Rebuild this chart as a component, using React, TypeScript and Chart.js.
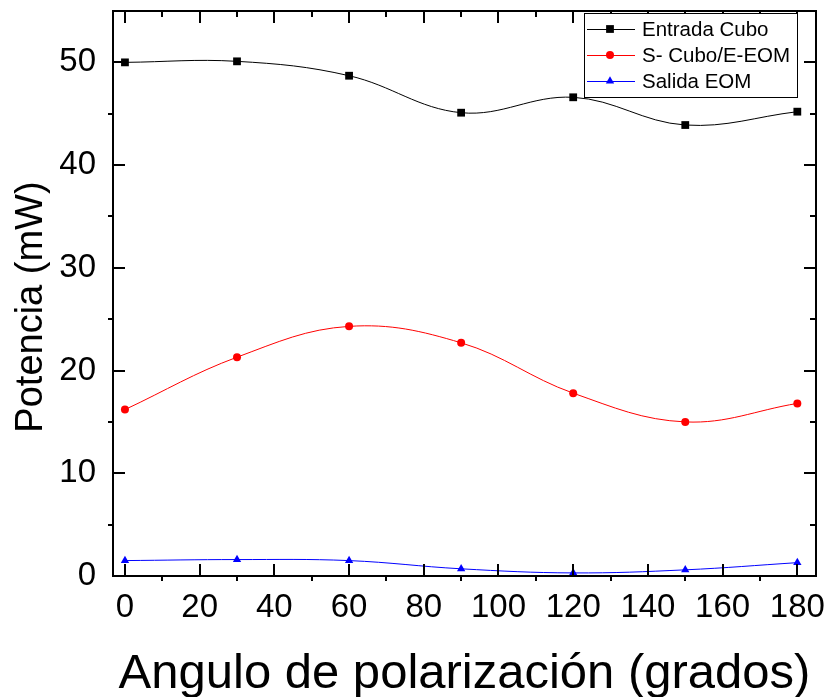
import React, { useEffect, useRef } from 'react';
import { Chart, registerables } from 'chart.js';

Chart.register(...registerables);

// Measured power at each polarizer angle (degrees)
const angles = [0, 30, 60, 90, 120, 150, 180];
const entradaCubo = [50.0, 50.1, 48.7, 45.1, 46.6, 43.9, 45.2];
const salidaCuboEntradaEom = [16.2, 21.3, 24.3, 22.7, 17.8, 15.0, 16.8];
const salidaEom = [1.5, 1.6, 1.5, 0.7, 0.3, 0.6, 1.3];

const seriesLabels = ['Entrada Cubo', 'S- Cubo/E-EOM', 'Salida EOM'];
const seriesColors = ['#000000', '#ff0000', '#0000ff'];
const seriesMarkers = ['rect', 'circle', 'triangle'];
const seriesMarkerRadius = [5.5, 4, 4.8];

const xMajorTicks = [0, 20, 40, 60, 80, 100, 120, 140, 160, 180];
const xMinorTicks = [10, 30, 50, 70, 90, 110, 130, 150, 170];
const yMajorTicks = [0, 10, 20, 30, 40, 50];
const yMinorTicks = [5, 15, 25, 35, 45];

const xTitle = 'Angulo de polarización (grados)';
const yTitle = 'Potencia (mW)';

const FONT = '"Liberation Sans", Arial, Helvetica, sans-serif';

function drawMarker(ctx: CanvasRenderingContext2D, style: string, x: number, y: number, r: number, color: string) {
  ctx.save();
  ctx.fillStyle = color;
  ctx.beginPath();
  if (style === 'rect') {
    const s = r * Math.SQRT1_2;
    ctx.rect(x - s, y - s, 2 * s, 2 * s);
  } else if (style === 'circle') {
    ctx.arc(x, y, r, 0, Math.PI * 2);
  } else {
    const w = r * Math.sqrt(3) / 2;
    ctx.moveTo(x, y - r);
    ctx.lineTo(x + w, y + r / 2);
    ctx.lineTo(x - w, y + r / 2);
    ctx.closePath();
  }
  ctx.fill();
  ctx.restore();
}

// Box frame with inward major ticks and outward minor ticks on the left/bottom,
// all-inward ticks on the mirrored top/right sides.
const framePlugin = {
  id: 'boxFrame',
  afterDatasetsDraw(chart: any) {
    const { ctx, chartArea: a, scales } = chart;
    const xs = scales.x;
    const ys = scales.y;
    ctx.save();
    ctx.strokeStyle = '#000';
    ctx.lineWidth = 2;
    ctx.lineCap = 'butt';
    ctx.strokeRect(a.left, a.top, a.right - a.left, a.bottom - a.top);
    ctx.beginPath();
    for (const v of xMajorTicks) {
      const px = Math.round(xs.getPixelForValue(v));
      ctx.moveTo(px, a.bottom);
      ctx.lineTo(px, a.bottom - 12);
      ctx.moveTo(px, a.top);
      ctx.lineTo(px, a.top + 12);
    }
    for (const v of xMinorTicks) {
      const px = Math.round(xs.getPixelForValue(v));
      ctx.moveTo(px, a.bottom);
      ctx.lineTo(px, a.bottom + 5);
      ctx.moveTo(px, a.top);
      ctx.lineTo(px, a.top + 6);
    }
    for (const v of yMajorTicks) {
      const py = Math.round(ys.getPixelForValue(v));
      ctx.moveTo(a.left, py);
      ctx.lineTo(a.left + 12, py);
      ctx.moveTo(a.right, py);
      ctx.lineTo(a.right - 12, py);
    }
    for (const v of yMinorTicks) {
      const py = Math.round(ys.getPixelForValue(v));
      ctx.moveTo(a.left, py);
      ctx.lineTo(a.left - 5, py);
      ctx.moveTo(a.right, py);
      ctx.lineTo(a.right - 6, py);
    }
    ctx.stroke();
    ctx.restore();
  },
};

// Axis titles: the x title under the tick labels, the y title rotated on the left.
const axisTitlePlugin = {
  id: 'axisTitles',
  afterDraw(chart: any) {
    const { ctx, chartArea: a } = chart;
    ctx.save();
    ctx.fillStyle = '#000';
    ctx.textAlign = 'center';
    ctx.textBaseline = 'alphabetic';
    ctx.font = `49px ${FONT}`;
    ctx.fillText(xTitle, (a.left + a.right) / 2, 688);
    ctx.translate(42, 307);
    ctx.rotate(-Math.PI / 2);
    ctx.font = `38px ${FONT}`;
    ctx.fillText(yTitle, 0, 0);
    ctx.restore();
  },
};

// Boxed legend in the upper right corner of the plot, each entry a line with its marker.
const boxLegendPlugin = {
  id: 'boxLegend',
  afterDraw(chart: any) {
    const { ctx, chartArea: a } = chart;
    const boxW = 213;
    const boxH = 84;
    const bx = a.right - 19 - boxW;
    const by = a.top + 2;
    ctx.save();
    ctx.fillStyle = '#fff';
    ctx.fillRect(bx, by, boxW, boxH);
    ctx.strokeStyle = '#000';
    ctx.lineWidth = 1;
    ctx.strokeRect(bx + 0.5, by + 0.5, boxW, boxH);
    ctx.font = `20.5px ${FONT}`;
    ctx.textBaseline = 'middle';
    ctx.textAlign = 'left';
    chart.data.datasets.forEach((ds: any, i: number) => {
      const cy = by + 16 + i * 26;
      ctx.strokeStyle = ds.borderColor;
      ctx.lineWidth = 1;
      ctx.beginPath();
      ctx.moveTo(bx + 3, cy + 0.5);
      ctx.lineTo(bx + 51, cy + 0.5);
      ctx.stroke();
      drawMarker(ctx, seriesMarkers[i], bx + 26, cy, seriesMarkerRadius[i], ds.borderColor);
      ctx.fillStyle = '#000';
      ctx.fillText(ds.label, bx + 58, cy + 1);
    });
    ctx.restore();
  },
};

export default function App() {
  const canvasRef = useRef<HTMLCanvasElement | null>(null);

  useEffect(() => {
    document.body.style.margin = '0';
    const canvas = canvasRef.current;
    if (!canvas) return;

    const seriesValues = [entradaCubo, salidaCuboEntradaEom, salidaEom];
    const datasets = seriesValues.map((vals, i) => ({
      label: seriesLabels[i],
      data: angles.map((a, j) => ({ x: a, y: vals[j] })),
      borderColor: seriesColors[i],
      backgroundColor: seriesColors[i],
      borderWidth: 1,
      pointStyle: seriesMarkers[i],
      pointRadius: seriesMarkerRadius[i],
      pointBorderWidth: 0,
      tension: 0.38,
      fill: false,
    }));

    const chart = new Chart(canvas, {
      type: 'line',
      data: { datasets },
      plugins: [framePlugin, axisTitlePlugin, boxLegendPlugin],
      options: {
        animation: false,
        responsive: false,
        maintainAspectRatio: false,
        layout: { padding: { left: 0, top: 11, right: 14, bottom: 0 } },
        plugins: {
          legend: { display: false },
          tooltip: { enabled: false },
        },
        scales: {
          x: {
            type: 'linear',
            min: -3.2,
            max: 185,
            afterBuildTicks: (scale: any) => {
              scale.ticks = xMajorTicks.map((v) => ({ value: v }));
            },
            afterFit: (scale: any) => {
              scale.height = 121;
              scale.paddingLeft = 0;
              scale.paddingRight = 0;
            },
            grid: { display: false, drawTicks: false },
            border: { display: false },
            ticks: {
              autoSkip: false,
              maxRotation: 0,
              padding: 12,
              color: '#000',
              font: { family: FONT, size: 33 },
            },
          },
          y: {
            type: 'linear',
            min: 0,
            max: 55,
            afterBuildTicks: (scale: any) => {
              scale.ticks = yMajorTicks.map((v) => ({ value: v }));
            },
            afterFit: (scale: any) => {
              scale.width = 113;
              scale.paddingTop = 0;
              scale.paddingBottom = 0;
            },
            grid: { display: false, drawTicks: false },
            border: { display: false },
            ticks: {
              autoSkip: false,
              padding: 17,
              color: '#000',
              font: { family: FONT, size: 33 },
            },
          },
        },
      },
    });

    return () => {
      chart.destroy();
    };
  }, []);

  return (
    <div style={{ width: 830, height: 697, background: '#fff' }}>
      <canvas ref={canvasRef} width={830} height={697} style={{ display: 'block' }} />
    </div>
  );
}
